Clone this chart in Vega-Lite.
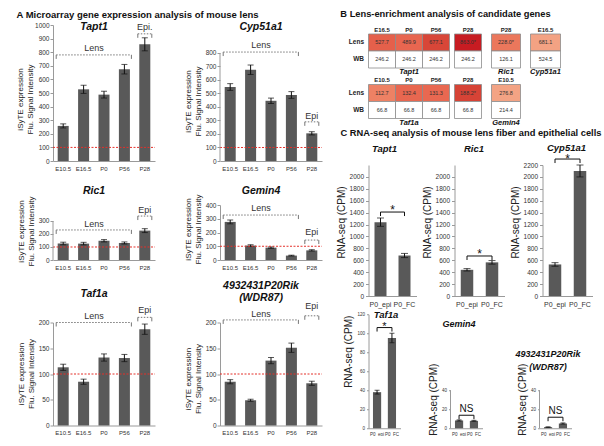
{
"$schema":"https://vega.github.io/schema/vega-lite/v6.json",
"background":"white",
"padding":{"left":16,"top":10,"right":0,"bottom":0},
"config":{"view":{"stroke":null},"font":"Liberation Sans","axis":{"grid":false,"domainColor":"#9a9a9a","tickColor":"#9a9a9a","labelColor":"#333","titleColor":"#222","titleFontWeight":"normal","labelOverlap":false}},
"datasets":{
"micro":[
{"gene":"Tapt1","x":"E10.5","y":258,"err":15},{"gene":"Tapt1","x":"E16.5","y":527,"err":30},{"gene":"Tapt1","x":"P0","y":488,"err":25},{"gene":"Tapt1","x":"P56","y":675,"err":35},{"gene":"Tapt1","x":"P28","y":858,"err":48},
{"gene":"Cyp51a1","x":"E10.5","y":548,"err":25},{"gene":"Cyp51a1","x":"E16.5","y":676,"err":35},{"gene":"Cyp51a1","x":"P0","y":446,"err":20},{"gene":"Cyp51a1","x":"P56","y":489,"err":25},{"gene":"Cyp51a1","x":"P28","y":205,"err":12},
{"gene":"Ric1","x":"E10.5","y":127,"err":10},{"gene":"Ric1","x":"E16.5","y":126,"err":10},{"gene":"Ric1","x":"P0","y":148,"err":9},{"gene":"Ric1","x":"P56","y":131,"err":8},{"gene":"Ric1","x":"P28","y":226,"err":15},
{"gene":"Gemin4","x":"E10.5","y":277,"err":14},{"gene":"Gemin4","x":"E16.5","y":105,"err":6},{"gene":"Gemin4","x":"P0","y":90,"err":5},{"gene":"Gemin4","x":"P56","y":32,"err":3},{"gene":"Gemin4","x":"P28","y":70,"err":5},
{"gene":"Taf1a","x":"E10.5","y":113,"err":6},{"gene":"Taf1a","x":"E16.5","y":85,"err":5},{"gene":"Taf1a","x":"P0","y":132,"err":7},{"gene":"Taf1a","x":"P56","y":131,"err":7},{"gene":"Taf1a","x":"P28","y":187,"err":10},
{"gene":"WDR87","x":"E10.5","y":85,"err":4},{"gene":"WDR87","x":"E16.5","y":49,"err":2},{"gene":"WDR87","x":"P0","y":126,"err":6},{"gene":"WDR87","x":"P56","y":151,"err":9},{"gene":"WDR87","x":"P28","y":82,"err":4}
],
"ref":[{"x":"E10.5","x2":"P28","y":100}],
"brk":[
{"gene":"Tapt1","x":"E10.5","x2":"P56","y":780},{"gene":"Tapt1","x":"P28","x2":"P28","y":935},
{"gene":"Cyp51a1","x":"E10.5","x2":"P56","y":807},{"gene":"Cyp51a1","x":"P28","x2":"P28","y":290},
{"gene":"Ric1","x":"E10.5","x2":"P56","y":231},{"gene":"Ric1","x":"P28","x2":"P28","y":338},
{"gene":"Gemin4","x":"E10.5","x2":"P56","y":327},{"gene":"Gemin4","x":"P28","x2":"P28","y":145},
{"gene":"Taf1a","x":"E10.5","x2":"P56","y":200},{"gene":"Taf1a","x":"P28","x2":"P28","y":210},
{"gene":"WDR87","x":"E10.5","x2":"P56","y":205},{"gene":"WDR87","x":"P28","x2":"P28","y":213}
],
"bt":[
{"gene":"Tapt1","side":"L","x":"E10.5","y":780},{"gene":"Tapt1","side":"R","x":"P56","y":780},{"gene":"Tapt1","side":"L","x":"P28","y":935},{"gene":"Tapt1","side":"R","x":"P28","y":935},
{"gene":"Cyp51a1","side":"L","x":"E10.5","y":807},{"gene":"Cyp51a1","side":"R","x":"P56","y":807},{"gene":"Cyp51a1","side":"L","x":"P28","y":290},{"gene":"Cyp51a1","side":"R","x":"P28","y":290},
{"gene":"Ric1","side":"L","x":"E10.5","y":231},{"gene":"Ric1","side":"R","x":"P56","y":231},{"gene":"Ric1","side":"L","x":"P28","y":338},{"gene":"Ric1","side":"R","x":"P28","y":338},
{"gene":"Gemin4","side":"L","x":"E10.5","y":327},{"gene":"Gemin4","side":"R","x":"P56","y":327},{"gene":"Gemin4","side":"L","x":"P28","y":145},{"gene":"Gemin4","side":"R","x":"P28","y":145},
{"gene":"Taf1a","side":"L","x":"E10.5","y":200},{"gene":"Taf1a","side":"R","x":"P56","y":200},{"gene":"Taf1a","side":"L","x":"P28","y":210},{"gene":"Taf1a","side":"R","x":"P28","y":210},
{"gene":"WDR87","side":"L","x":"E10.5","y":205},{"gene":"WDR87","side":"R","x":"P56","y":205},{"gene":"WDR87","side":"L","x":"P28","y":213},{"gene":"WDR87","side":"R","x":"P28","y":213}
],
"lbl":[
{"gene":"Tapt1","kind":"lens","x":"P0","y":830,"text":"Lens"},{"gene":"Tapt1","kind":"epi","x":"P28","y":985,"text":"Epi."},{"gene":"Tapt1","kind":"title","x":"P0","y":985,"text":"Tapt1"},
{"gene":"Cyp51a1","kind":"lens","x":"P0","y":860,"text":"Lens"},{"gene":"Cyp51a1","kind":"epi","x":"P28","y":330,"text":"Epi"},{"gene":"Cyp51a1","kind":"title","x":"P0","y":993,"text":"Cyp51a1"},
{"gene":"Ric1","kind":"lens","x":"P0","y":277,"text":"Lens"},{"gene":"Ric1","kind":"epi","x":"P28","y":385,"text":"Epi"},{"gene":"Ric1","kind":"title","x":"P0","y":531,"text":"Ric1"},
{"gene":"Gemin4","kind":"lens","x":"P0","y":378,"text":"Lens"},{"gene":"Gemin4","kind":"epi","x":"P28","y":204,"text":"Epi"},{"gene":"Gemin4","kind":"title","x":"P0","y":502,"text":"Gemin4"},
{"gene":"Taf1a","kind":"lens","x":"P0","y":212,"text":"Lens"},{"gene":"Taf1a","kind":"epi","x":"P28","y":225,"text":"Epi"},{"gene":"Taf1a","kind":"title","x":"P0","y":256,"text":"Taf1a"},
{"gene":"WDR87","kind":"lens","x":"P0","y":217,"text":"Lens"},{"gene":"WDR87","kind":"epi","x":"P28","y":233,"text":"Epi"},{"gene":"WDR87","kind":"title","x":"P0","y":270,"text":"4932431P20Rik"},{"gene":"WDR87","kind":"title","x":"P0","y":247,"text":"(WDR87)"}
],
"axl":[{"gene":"Cyp51a1","x":"E10.5","y":0,"y2":800},{"gene":"Ric1","x":"E10.5","y":0,"y2":300}],
"caxl":[{"gene":"Gemin4","x":"P0_epi","y":0,"y2":40},{"gene":"WDR87","x":"P0_epi","y":0,"y2":40}],
"heat":[
{"blk":"t1","col":"E16.5","row":"Lens","label":"527.7","fold":2.14},{"blk":"t1","col":"E16.5","row":"WB","label":"246.2","fold":1},
{"blk":"t1","col":"P0","row":"Lens","label":"489.9","fold":1.99},{"blk":"t1","col":"P0","row":"WB","label":"246.2","fold":1},
{"blk":"t1","col":"P56","row":"Lens","label":"677.1","fold":2.75},{"blk":"t1","col":"P56","row":"WB","label":"246.2","fold":1},
{"blk":"t2","col":"P28","row":"Lens","label":"863.0*","fold":3.51},{"blk":"t2","col":"P28","row":"WB","label":"246.2","fold":1},
{"blk":"r1","col":"P28","row":"Lens","label":"228.0*","fold":1.81},{"blk":"r1","col":"P28","row":"WB","label":"126.1","fold":1},
{"blk":"c1","col":"E16.5","row":"Lens","label":"681.1","fold":1.3},{"blk":"c1","col":"E16.5","row":"WB","label":"524.5","fold":1},
{"blk":"f1","col":"E10.5","row":"Lens","label":"112.7","fold":1.69},{"blk":"f1","col":"E10.5","row":"WB","label":"66.8","fold":1},
{"blk":"f1","col":"P0","row":"Lens","label":"132.4","fold":1.98},{"blk":"f1","col":"P0","row":"WB","label":"66.8","fold":1},
{"blk":"f1","col":"P56","row":"Lens","label":"131.3","fold":1.97},{"blk":"f1","col":"P56","row":"WB","label":"66.8","fold":1},
{"blk":"f2","col":"P28","row":"Lens","label":"188.2*","fold":2.82},{"blk":"f2","col":"P28","row":"WB","label":"66.8","fold":1},
{"blk":"g1","col":"E10.5","row":"Lens","label":"276.8","fold":1.29},{"blk":"g1","col":"E10.5","row":"WB","label":"214.4","fold":1}
],
"rna":[
{"gene":"Tapt1","x":"P0_epi","y":1240,"err":70},{"gene":"Tapt1","x":"P0_FC","y":680,"err":35},
{"gene":"Ric1","x":"P0_epi","y":440,"err":20},{"gene":"Ric1","x":"P0_FC","y":565,"err":30},
{"gene":"Cyp51a1","x":"P0_epi","y":530,"err":30},{"gene":"Cyp51a1","x":"P0_FC","y":2100,"err":100},
{"gene":"Taf1a","x":"P0_epi","y":38,"err":2},{"gene":"Taf1a","x":"P0_FC","y":95,"err":5},
{"gene":"Gemin4","x":"P0_epi","y":8.2,"err":0.6},{"gene":"Gemin4","x":"P0_FC","y":7.8,"err":0.5},
{"gene":"WDR87","x":"P0_epi","y":1.2,"err":0.3},{"gene":"WDR87","x":"P0_FC","y":5,"err":0.6}
],
"sig":[
{"gene":"Tapt1","x":"P0_epi","x2":"P0_FC","y":1410,"text":"*"},
{"gene":"Ric1","x":"P0_epi","x2":"P0_FC","y":672,"text":"*"},
{"gene":"Cyp51a1","x":"P0_epi","x2":"P0_FC","y":2300,"text":"*"},
{"gene":"Taf1a","x":"P0_epi","x2":"P0_FC","y":106,"text":"*"},
{"gene":"Gemin4","x":"P0_epi","x2":"P0_FC","y":13.7,"text":"NS"},
{"gene":"WDR87","x":"P0_epi","x2":"P0_FC","y":11.6,"text":"NS"}
],
"st":[
{"gene":"Tapt1","x":"P0_epi","y":1410},{"gene":"Tapt1","x":"P0_FC","y":1410},
{"gene":"Ric1","x":"P0_epi","y":672},{"gene":"Ric1","x":"P0_FC","y":672},
{"gene":"Cyp51a1","x":"P0_epi","y":2300},{"gene":"Cyp51a1","x":"P0_FC","y":2300},
{"gene":"Taf1a","x":"P0_epi","y":106},{"gene":"Taf1a","x":"P0_FC","y":106},
{"gene":"Gemin4","x":"P0_epi","y":13.7},{"gene":"Gemin4","x":"P0_FC","y":13.7},
{"gene":"WDR87","x":"P0_epi","y":11.6},{"gene":"WDR87","x":"P0_FC","y":11.6}
],
"ct":[
{"gene":"Tapt1","x":"P0_epi","y":2470,"text":"Tapt1"},
{"gene":"Ric1","x":"P0_epi","y":2470,"text":"Ric1"},
{"gene":"Cyp51a1","x":"P0_epi","y":2470,"text":"Cyp51a1"},
{"gene":"Taf1a","x":"P0_epi","y":119,"text":"Taf1a"},
{"gene":"Gemin4","x":"P0_epi","y":110,"text":"Gemin4"},
{"gene":"WDR87","x":"P0_epi","y":78,"text":"4932431P20Rik"},
{"gene":"WDR87","x":"P0_epi","y":65,"text":"(WDR87)"}
]
},
"spacing":12.5,
"hconcat":[
{
"title":{"text":"A  Microarray gene expression analysis of mouse lens","anchor":"start","fontSize":9.5,"fontWeight":"bold","color":"#111","offset":2.2,"dx":0},
"spacing":10.5,
"vconcat":[
{"spacing":14,"vconcat":[
{"spacing":28,"hconcat":[
{"width":102,"height":136,
"encoding":{"x":{"field":"x","type":"nominal","scale":{"domain":["E10.5","E16.5","P0","P56","P28"],"paddingInner":0.46,"paddingOuter":0.23},"axis":{"title":null,"labelAngle":0,"ticks":false,"labelFontSize":6,"labelPadding":4}},"y":{"field":"y","type":"quantitative","title":["iSyTE expression","Flu. Signal Intensity"],"scale":{"domain":[0,1000],"nice":false},"axis":{"values":[0,100,200,300,400,500,600,700,800,900,1000],"format":"d","labelFontSize":6.5,"tickSize":3,"labelPadding":1,"minExtent":18,"titleFontSize":8,"titleLineHeight":10,"titlePadding":0,"titleY":74,"labelOverlap":false}}},
"layer":[
{"data":{"name":"micro"},"transform":[{"filter":"datum.gene==='Tapt1'"}],"mark":{"type":"bar","color":"#595959"}},
{"data":{"name":"micro"},"transform":[{"filter":"datum.gene==='Tapt1'"}],"mark":{"type":"errorbar","color":"#111","ticks":{"size":6}},"encoding":{"yError":{"field":"err"}}},
{"data":{"name":"ref"},"mark":{"type":"rule","color":"#e4312b","strokeDash":[2,1.5],"xOffset":-10.2,"x2Offset":10.2},"encoding":{"x2":{"field":"x2"}}},
{"data":{"name":"brk"},"transform":[{"filter":"datum.gene==='Tapt1'"}],"mark":{"type":"rule","color":"#777","strokeDash":[1.5,1.5],"xOffset":-7,"x2Offset":7},"encoding":{"x2":{"field":"x2"}}},
{"data":{"name":"bt"},"transform":[{"filter":"datum.gene==='Tapt1' && datum.side==='L'"}],"mark":{"type":"rule","color":"#777","xOffset":-7,"y2Offset":4},"encoding":{"y2":{"field":"y"}}},
{"data":{"name":"bt"},"transform":[{"filter":"datum.gene==='Tapt1' && datum.side==='R'"}],"mark":{"type":"rule","color":"#777","xOffset":7,"y2Offset":4},"encoding":{"y2":{"field":"y"}}},
{"data":{"name":"lbl"},"transform":[{"filter":"datum.gene==='Tapt1' && datum.kind==='lens'"}],"mark":{"type":"text","fontSize":9,"color":"#333","dx":-10},"encoding":{"text":{"field":"text"}}},
{"data":{"name":"lbl"},"transform":[{"filter":"datum.gene==='Tapt1' && datum.kind==='epi'"}],"mark":{"type":"text","fontSize":9,"color":"#333"},"encoding":{"text":{"field":"text"}}},
{"data":{"name":"lbl"},"transform":[{"filter":"datum.gene==='Tapt1' && datum.kind==='title'"}],"mark":{"type":"text","fontSize":10.5,"fontWeight":"bold","fontStyle":"italic","color":"#111","dx":-10},"encoding":{"text":{"field":"text"}}}
]},
{"width":102,"height":136,
"encoding":{"x":{"field":"x","type":"nominal","scale":{"domain":["E10.5","E16.5","P0","P56","P28"],"paddingInner":0.46,"paddingOuter":0.23},"axis":{"title":null,"labelAngle":0,"ticks":false,"labelFontSize":6,"labelPadding":4}},"y":{"field":"y","type":"quantitative","title":["iSyTE expression","Flu. Signal Intensity"],"scale":{"domain":[0,1007.4],"nice":false},"axis":{"values":[0,100,200,300,400,500,600,700,800],"format":"d","domain":false,"labelFontSize":6.5,"tickSize":3,"labelPadding":1,"minExtent":18,"titleFontSize":8,"titleLineHeight":10,"titlePadding":0,"titleY":76,"labelOverlap":false}}},
"layer":[
{"data":{"name":"micro"},"transform":[{"filter":"datum.gene==='Cyp51a1'"}],"mark":{"type":"bar","color":"#595959"}},
{"data":{"name":"micro"},"transform":[{"filter":"datum.gene==='Cyp51a1'"}],"mark":{"type":"errorbar","color":"#111","ticks":{"size":6}},"encoding":{"yError":{"field":"err"}}},
{"data":{"name":"ref"},"mark":{"type":"rule","color":"#e4312b","strokeDash":[2,1.5],"xOffset":-10.2,"x2Offset":10.2},"encoding":{"x2":{"field":"x2"}}},
{"data":{"name":"axl"},"transform":[{"filter":"datum.gene==='Cyp51a1'"}],"mark":{"type":"rule","color":"#9a9a9a","xOffset":-10.2},"encoding":{"y2":{"field":"y2"}}},
{"data":{"name":"brk"},"transform":[{"filter":"datum.gene==='Cyp51a1'"}],"mark":{"type":"rule","color":"#777","strokeDash":[1.5,1.5],"xOffset":-7,"x2Offset":7},"encoding":{"x2":{"field":"x2"}}},
{"data":{"name":"bt"},"transform":[{"filter":"datum.gene==='Cyp51a1' && datum.side==='L'"}],"mark":{"type":"rule","color":"#777","xOffset":-7,"y2Offset":4},"encoding":{"y2":{"field":"y"}}},
{"data":{"name":"bt"},"transform":[{"filter":"datum.gene==='Cyp51a1' && datum.side==='R'"}],"mark":{"type":"rule","color":"#777","xOffset":7,"y2Offset":4},"encoding":{"y2":{"field":"y"}}},
{"data":{"name":"lbl"},"transform":[{"filter":"datum.gene==='Cyp51a1' && datum.kind==='lens'"}],"mark":{"type":"text","fontSize":9,"color":"#333","dx":-10},"encoding":{"text":{"field":"text"}}},
{"data":{"name":"lbl"},"transform":[{"filter":"datum.gene==='Cyp51a1' && datum.kind==='epi'"}],"mark":{"type":"text","fontSize":9,"color":"#333"},"encoding":{"text":{"field":"text"}}},
{"data":{"name":"lbl"},"transform":[{"filter":"datum.gene==='Cyp51a1' && datum.kind==='title'"}],"mark":{"type":"text","fontSize":10.5,"fontWeight":"bold","fontStyle":"italic","color":"#111","dx":-10},"encoding":{"text":{"field":"text"}}}
]}
]},
{"spacing":28,"hconcat":[
{"width":102,"height":55,
"encoding":{"x":{"field":"x","type":"nominal","scale":{"domain":["E10.5","E16.5","P0","P56","P28"],"paddingInner":0.46,"paddingOuter":0.23},"axis":{"title":null,"labelAngle":0,"ticks":false,"labelFontSize":6,"labelPadding":4}},"y":{"field":"y","type":"quantitative","title":["iSyTE expression","Flu. Signal Intensity"],"scale":{"domain":[0,423],"nice":false},"axis":{"values":[0,100,200,300],"format":"d","domain":false,"labelFontSize":6.5,"tickSize":3,"labelPadding":1,"minExtent":18,"titleFontSize":8,"titleLineHeight":10,"titlePadding":0,"titleY":26,"labelOverlap":false}}},
"layer":[
{"data":{"name":"micro"},"transform":[{"filter":"datum.gene==='Ric1'"}],"mark":{"type":"bar","color":"#595959"}},
{"data":{"name":"micro"},"transform":[{"filter":"datum.gene==='Ric1'"}],"mark":{"type":"errorbar","color":"#111","ticks":{"size":6}},"encoding":{"yError":{"field":"err"}}},
{"data":{"name":"ref"},"mark":{"type":"rule","color":"#e4312b","strokeDash":[2,1.5],"xOffset":-10.2,"x2Offset":10.2},"encoding":{"x2":{"field":"x2"}}},
{"data":{"name":"axl"},"transform":[{"filter":"datum.gene==='Ric1'"}],"mark":{"type":"rule","color":"#9a9a9a","xOffset":-10.2},"encoding":{"y2":{"field":"y2"}}},
{"data":{"name":"brk"},"transform":[{"filter":"datum.gene==='Ric1'"}],"mark":{"type":"rule","color":"#777","strokeDash":[1.5,1.5],"xOffset":-7,"x2Offset":7},"encoding":{"x2":{"field":"x2"}}},
{"data":{"name":"bt"},"transform":[{"filter":"datum.gene==='Ric1' && datum.side==='L'"}],"mark":{"type":"rule","color":"#777","xOffset":-7,"y2Offset":4},"encoding":{"y2":{"field":"y"}}},
{"data":{"name":"bt"},"transform":[{"filter":"datum.gene==='Ric1' && datum.side==='R'"}],"mark":{"type":"rule","color":"#777","xOffset":7,"y2Offset":4},"encoding":{"y2":{"field":"y"}}},
{"data":{"name":"lbl"},"transform":[{"filter":"datum.gene==='Ric1' && datum.kind==='lens'"}],"mark":{"type":"text","fontSize":9,"color":"#333","dx":-10},"encoding":{"text":{"field":"text"}}},
{"data":{"name":"lbl"},"transform":[{"filter":"datum.gene==='Ric1' && datum.kind==='epi'"}],"mark":{"type":"text","fontSize":9,"color":"#333"},"encoding":{"text":{"field":"text"}}},
{"data":{"name":"lbl"},"transform":[{"filter":"datum.gene==='Ric1' && datum.kind==='title'"}],"mark":{"type":"text","fontSize":10.5,"fontWeight":"bold","fontStyle":"italic","color":"#111","dx":-10},"encoding":{"text":{"field":"text"}}}
]},
{"width":102,"height":55,
"encoding":{"x":{"field":"x","type":"nominal","scale":{"domain":["E10.5","E16.5","P0","P56","P28"],"paddingInner":0.46,"paddingOuter":0.23},"axis":{"title":null,"labelAngle":0,"ticks":false,"labelFontSize":6,"labelPadding":4}},"y":{"field":"y","type":"quantitative","title":["iSyTE expression","Flu. Signal Intensity"],"scale":{"domain":[0,400],"nice":false},"axis":{"values":[0,100,200,300,400],"format":"d","labelFontSize":6.5,"tickSize":3,"labelPadding":1,"minExtent":18,"titleFontSize":8,"titleLineHeight":10,"titlePadding":0,"titleY":24,"labelOverlap":false}}},
"layer":[
{"data":{"name":"micro"},"transform":[{"filter":"datum.gene==='Gemin4'"}],"mark":{"type":"bar","color":"#595959"}},
{"data":{"name":"micro"},"transform":[{"filter":"datum.gene==='Gemin4'"}],"mark":{"type":"errorbar","color":"#111","ticks":{"size":6}},"encoding":{"yError":{"field":"err"}}},
{"data":{"name":"ref"},"mark":{"type":"rule","color":"#e4312b","strokeDash":[2,1.5],"xOffset":-10.2,"x2Offset":10.2},"encoding":{"x2":{"field":"x2"}}},
{"data":{"name":"brk"},"transform":[{"filter":"datum.gene==='Gemin4'"}],"mark":{"type":"rule","color":"#777","strokeDash":[1.5,1.5],"xOffset":-7,"x2Offset":7},"encoding":{"x2":{"field":"x2"}}},
{"data":{"name":"bt"},"transform":[{"filter":"datum.gene==='Gemin4' && datum.side==='L'"}],"mark":{"type":"rule","color":"#777","xOffset":-7,"y2Offset":4},"encoding":{"y2":{"field":"y"}}},
{"data":{"name":"bt"},"transform":[{"filter":"datum.gene==='Gemin4' && datum.side==='R'"}],"mark":{"type":"rule","color":"#777","xOffset":7,"y2Offset":4},"encoding":{"y2":{"field":"y"}}},
{"data":{"name":"lbl"},"transform":[{"filter":"datum.gene==='Gemin4' && datum.kind==='lens'"}],"mark":{"type":"text","fontSize":9,"color":"#333","dx":-10},"encoding":{"text":{"field":"text"}}},
{"data":{"name":"lbl"},"transform":[{"filter":"datum.gene==='Gemin4' && datum.kind==='epi'"}],"mark":{"type":"text","fontSize":9,"color":"#333"},"encoding":{"text":{"field":"text"}}},
{"data":{"name":"lbl"},"transform":[{"filter":"datum.gene==='Gemin4' && datum.kind==='title'"}],"mark":{"type":"text","fontSize":10.5,"fontWeight":"bold","fontStyle":"italic","color":"#111","dx":-10},"encoding":{"text":{"field":"text"}}}
]}
]}
]},
{"spacing":28,"hconcat":[
{"width":102,"height":103,
"encoding":{"x":{"field":"x","type":"nominal","scale":{"domain":["E10.5","E16.5","P0","P56","P28"],"paddingInner":0.46,"paddingOuter":0.23},"axis":{"title":null,"labelAngle":0,"ticks":false,"labelFontSize":6,"labelPadding":4}},"y":{"field":"y","type":"quantitative","title":["iSyTE expression","Flu. Signal Intensity"],"scale":{"domain":[0,200],"nice":false},"axis":{"values":[0,50,100,150,200],"format":"d","labelFontSize":6.5,"tickSize":3,"labelPadding":1,"minExtent":18,"titleFontSize":8,"titleLineHeight":10,"titlePadding":0,"titleY":51,"labelOverlap":false}}},
"layer":[
{"data":{"name":"micro"},"transform":[{"filter":"datum.gene==='Taf1a'"}],"mark":{"type":"bar","color":"#595959"}},
{"data":{"name":"micro"},"transform":[{"filter":"datum.gene==='Taf1a'"}],"mark":{"type":"errorbar","color":"#111","ticks":{"size":6}},"encoding":{"yError":{"field":"err"}}},
{"data":{"name":"ref"},"mark":{"type":"rule","color":"#e4312b","strokeDash":[2,1.5],"xOffset":-10.2,"x2Offset":10.2},"encoding":{"x2":{"field":"x2"}}},
{"data":{"name":"brk"},"transform":[{"filter":"datum.gene==='Taf1a'"}],"mark":{"type":"rule","color":"#777","strokeDash":[1.5,1.5],"xOffset":-7,"x2Offset":7},"encoding":{"x2":{"field":"x2"}}},
{"data":{"name":"bt"},"transform":[{"filter":"datum.gene==='Taf1a' && datum.side==='L'"}],"mark":{"type":"rule","color":"#777","xOffset":-7,"y2Offset":4},"encoding":{"y2":{"field":"y"}}},
{"data":{"name":"bt"},"transform":[{"filter":"datum.gene==='Taf1a' && datum.side==='R'"}],"mark":{"type":"rule","color":"#777","xOffset":7,"y2Offset":4},"encoding":{"y2":{"field":"y"}}},
{"data":{"name":"lbl"},"transform":[{"filter":"datum.gene==='Taf1a' && datum.kind==='lens'"}],"mark":{"type":"text","fontSize":9,"color":"#333","dx":-10},"encoding":{"text":{"field":"text"}}},
{"data":{"name":"lbl"},"transform":[{"filter":"datum.gene==='Taf1a' && datum.kind==='epi'"}],"mark":{"type":"text","fontSize":9,"color":"#333"},"encoding":{"text":{"field":"text"}}},
{"data":{"name":"lbl"},"transform":[{"filter":"datum.gene==='Taf1a' && datum.kind==='title'"}],"mark":{"type":"text","fontSize":10.5,"fontWeight":"bold","fontStyle":"italic","color":"#111","dx":-10},"encoding":{"text":{"field":"text"}}}
]},
{"width":102,"height":103,
"encoding":{"x":{"field":"x","type":"nominal","scale":{"domain":["E10.5","E16.5","P0","P56","P28"],"paddingInner":0.46,"paddingOuter":0.23},"axis":{"title":null,"labelAngle":0,"ticks":false,"labelFontSize":6,"labelPadding":4}},"y":{"field":"y","type":"quantitative","title":["iSyTE expression","Flu. Signal Intensity"],"scale":{"domain":[0,200],"nice":false},"axis":{"values":[0,50,100,150,200],"format":"d","labelFontSize":6.5,"tickSize":3,"labelPadding":1,"minExtent":18,"titleFontSize":8,"titleLineHeight":10,"titlePadding":0,"titleY":56,"labelOverlap":false}}},
"layer":[
{"data":{"name":"micro"},"transform":[{"filter":"datum.gene==='WDR87'"}],"mark":{"type":"bar","color":"#595959"}},
{"data":{"name":"micro"},"transform":[{"filter":"datum.gene==='WDR87'"}],"mark":{"type":"errorbar","color":"#111","ticks":{"size":6}},"encoding":{"yError":{"field":"err"}}},
{"data":{"name":"ref"},"mark":{"type":"rule","color":"#e4312b","strokeDash":[2,1.5],"xOffset":-10.2,"x2Offset":10.2},"encoding":{"x2":{"field":"x2"}}},
{"data":{"name":"brk"},"transform":[{"filter":"datum.gene==='WDR87'"}],"mark":{"type":"rule","color":"#777","strokeDash":[1.5,1.5],"xOffset":-7,"x2Offset":7},"encoding":{"x2":{"field":"x2"}}},
{"data":{"name":"bt"},"transform":[{"filter":"datum.gene==='WDR87' && datum.side==='L'"}],"mark":{"type":"rule","color":"#777","xOffset":-7,"y2Offset":4},"encoding":{"y2":{"field":"y"}}},
{"data":{"name":"bt"},"transform":[{"filter":"datum.gene==='WDR87' && datum.side==='R'"}],"mark":{"type":"rule","color":"#777","xOffset":7,"y2Offset":4},"encoding":{"y2":{"field":"y"}}},
{"data":{"name":"lbl"},"transform":[{"filter":"datum.gene==='WDR87' && datum.kind==='lens'"}],"mark":{"type":"text","fontSize":9,"color":"#333","dx":-10},"encoding":{"text":{"field":"text"}}},
{"data":{"name":"lbl"},"transform":[{"filter":"datum.gene==='WDR87' && datum.kind==='epi'"}],"mark":{"type":"text","fontSize":9,"color":"#333"},"encoding":{"text":{"field":"text"}}},
{"data":{"name":"lbl"},"transform":[{"filter":"datum.gene==='WDR87' && datum.kind==='title'"}],"mark":{"type":"text","fontSize":10.5,"fontWeight":"bold","fontStyle":"italic","color":"#111","dx":-10},"encoding":{"text":{"field":"text"}}}
]}
]}
]
},
{
"spacing":2,
"vconcat":[
{
"title":{"text":"B  Lens-enrichment analysis of candidate genes","anchor":"start","fontSize":9.3,"fontWeight":"bold","color":"#111","offset":5.5,"dx":-8},
"spacing":0,
"vconcat":[
{"spacing":8,"hconcat":[
{"spacing":3,"hconcat":[
{"width":81,"height":43,"data":{"name":"heat"},"transform":[{"filter":"datum.blk==='t1'"}],
"encoding":{"x":{"field":"col","type":"nominal","scale":{"paddingInner":0,"paddingOuter":0},"axis":{"orient":"top","offset":-9,"title":null,"labelAngle":0,"ticks":false,"domain":false,"labelFontSize":6,"labelFontWeight":"bold","labelPadding":2,"labelColor":"#222"}},"y":{"field":"row","type":"nominal","sort":["Lens","WB"],"scale":{"paddingInner":0,"paddingOuter":0.2647,"align":1},"axis":{"title":null,"ticks":false,"domain":false,"labelFontSize":6.5,"labelFontWeight":"bold","labelPadding":5,"labelColor":"#222"}}},
"layer":[{"mark":{"type":"rect","stroke":"#8c8c8c","strokeWidth":0.8},"encoding":{"color":{"condition":{"test":"datum.row==='WB'","value":"#ffffff"},"field":"fold","type":"quantitative","scale":{"domain":[1.3,2,3.5],"range":["#f3a283","#e8654f","#c71d22"]},"legend":null}}},{"mark":{"type":"text","fontSize":5.5,"color":"#333"},"encoding":{"text":{"field":"label"}}}],
"title":{"text":"Tapt1","orient":"bottom","anchor":"middle","fontSize":7.5,"fontWeight":"bold","fontStyle":"italic","color":"#111","offset":0}},
{"width":27,"height":43,"data":{"name":"heat"},"transform":[{"filter":"datum.blk==='t2'"}],
"encoding":{"x":{"field":"col","type":"nominal","scale":{"paddingInner":0,"paddingOuter":0},"axis":{"orient":"top","offset":-9,"title":null,"labelAngle":0,"ticks":false,"domain":false,"labelFontSize":6,"labelFontWeight":"bold","labelPadding":2,"labelColor":"#222"}},"y":{"field":"row","type":"nominal","sort":["Lens","WB"],"scale":{"paddingInner":0,"paddingOuter":0.2647,"align":1},"axis":null}},
"layer":[{"mark":{"type":"rect","stroke":"#8c8c8c","strokeWidth":0.8},"encoding":{"color":{"condition":{"test":"datum.row==='WB'","value":"#ffffff"},"field":"fold","type":"quantitative","scale":{"domain":[1.3,2,3.5],"range":["#f3a283","#e8654f","#c71d22"]},"legend":null}}},{"mark":{"type":"text","fontSize":5.5,"color":"#333"},"encoding":{"text":{"field":"label"}}}]}
]},
{"width":29,"height":43,"data":{"name":"heat"},"transform":[{"filter":"datum.blk==='r1'"}],
"encoding":{"x":{"field":"col","type":"nominal","scale":{"paddingInner":0,"paddingOuter":0},"axis":{"orient":"top","offset":-9,"title":null,"labelAngle":0,"ticks":false,"domain":false,"labelFontSize":6,"labelFontWeight":"bold","labelPadding":2,"labelColor":"#222"}},"y":{"field":"row","type":"nominal","sort":["Lens","WB"],"scale":{"paddingInner":0,"paddingOuter":0.2647,"align":1},"axis":null}},
"layer":[{"mark":{"type":"rect","stroke":"#8c8c8c","strokeWidth":0.8},"encoding":{"color":{"condition":{"test":"datum.row==='WB'","value":"#ffffff"},"field":"fold","type":"quantitative","scale":{"domain":[1.3,2,3.5],"range":["#f3a283","#e8654f","#c71d22"]},"legend":null}}},{"mark":{"type":"text","fontSize":5.5,"color":"#333"},"encoding":{"text":{"field":"label"}}}],
"title":{"text":"Ric1","orient":"bottom","anchor":"middle","fontSize":7.5,"fontWeight":"bold","fontStyle":"italic","color":"#111","offset":0}},
{"width":30,"height":43,"data":{"name":"heat"},"transform":[{"filter":"datum.blk==='c1'"}],
"encoding":{"x":{"field":"col","type":"nominal","scale":{"paddingInner":0,"paddingOuter":0},"axis":{"orient":"top","offset":-9,"title":null,"labelAngle":0,"ticks":false,"domain":false,"labelFontSize":6,"labelFontWeight":"bold","labelPadding":2,"labelColor":"#222"}},"y":{"field":"row","type":"nominal","sort":["Lens","WB"],"scale":{"paddingInner":0,"paddingOuter":0.2647,"align":1},"axis":null}},
"layer":[{"mark":{"type":"rect","stroke":"#8c8c8c","strokeWidth":0.8},"encoding":{"color":{"condition":{"test":"datum.row==='WB'","value":"#ffffff"},"field":"fold","type":"quantitative","scale":{"domain":[1.3,2,3.5],"range":["#f3a283","#e8654f","#c71d22"]},"legend":null}}},{"mark":{"type":"text","fontSize":5.5,"color":"#333"},"encoding":{"text":{"field":"label"}}}],
"title":{"text":"Cyp51a1","orient":"bottom","anchor":"middle","fontSize":7.5,"fontWeight":"bold","fontStyle":"italic","color":"#111","offset":0}}
]},
{"spacing":8,"hconcat":[
{"spacing":3,"hconcat":[
{"width":81,"height":41.5,"data":{"name":"heat"},"transform":[{"filter":"datum.blk==='f1'"}],
"encoding":{"x":{"field":"col","type":"nominal","scale":{"paddingInner":0,"paddingOuter":0},"axis":{"orient":"top","offset":-7.5,"title":null,"labelAngle":0,"ticks":false,"domain":false,"labelFontSize":6,"labelFontWeight":"bold","labelPadding":2,"labelColor":"#222"}},"y":{"field":"row","type":"nominal","sort":["Lens","WB"],"scale":{"paddingInner":0,"paddingOuter":0.2206,"align":1},"axis":{"title":null,"ticks":false,"domain":false,"labelFontSize":6.5,"labelFontWeight":"bold","labelPadding":5,"labelColor":"#222"}}},
"layer":[{"mark":{"type":"rect","stroke":"#8c8c8c","strokeWidth":0.8},"encoding":{"color":{"condition":{"test":"datum.row==='WB'","value":"#ffffff"},"field":"fold","type":"quantitative","scale":{"domain":[1.3,2,3.5],"range":["#f3a283","#e8654f","#c71d22"]},"legend":null}}},{"mark":{"type":"text","fontSize":5.5,"color":"#333"},"encoding":{"text":{"field":"label"}}}],
"title":{"text":"Taf1a","orient":"bottom","anchor":"middle","fontSize":7.5,"fontWeight":"bold","fontStyle":"italic","color":"#111","offset":0}},
{"width":27,"height":41.5,"data":{"name":"heat"},"transform":[{"filter":"datum.blk==='f2'"}],
"encoding":{"x":{"field":"col","type":"nominal","scale":{"paddingInner":0,"paddingOuter":0},"axis":{"orient":"top","offset":-7.5,"title":null,"labelAngle":0,"ticks":false,"domain":false,"labelFontSize":6,"labelFontWeight":"bold","labelPadding":2,"labelColor":"#222"}},"y":{"field":"row","type":"nominal","sort":["Lens","WB"],"scale":{"paddingInner":0,"paddingOuter":0.2206,"align":1},"axis":null}},
"layer":[{"mark":{"type":"rect","stroke":"#8c8c8c","strokeWidth":0.8},"encoding":{"color":{"condition":{"test":"datum.row==='WB'","value":"#ffffff"},"field":"fold","type":"quantitative","scale":{"domain":[1.3,2,3.5],"range":["#f3a283","#e8654f","#c71d22"]},"legend":null}}},{"mark":{"type":"text","fontSize":5.5,"color":"#333"},"encoding":{"text":{"field":"label"}}}]}
]},
{"width":29,"height":41.5,"data":{"name":"heat"},"transform":[{"filter":"datum.blk==='g1'"}],
"encoding":{"x":{"field":"col","type":"nominal","scale":{"paddingInner":0,"paddingOuter":0},"axis":{"orient":"top","offset":-7.5,"title":null,"labelAngle":0,"ticks":false,"domain":false,"labelFontSize":6,"labelFontWeight":"bold","labelPadding":2,"labelColor":"#222"}},"y":{"field":"row","type":"nominal","sort":["Lens","WB"],"scale":{"paddingInner":0,"paddingOuter":0.2206,"align":1},"axis":null}},
"layer":[{"mark":{"type":"rect","stroke":"#8c8c8c","strokeWidth":0.8},"encoding":{"color":{"condition":{"test":"datum.row==='WB'","value":"#ffffff"},"field":"fold","type":"quantitative","scale":{"domain":[1.3,2,3.5],"range":["#f3a283","#e8654f","#c71d22"]},"legend":null}}},{"mark":{"type":"text","fontSize":5.5,"color":"#333"},"encoding":{"text":{"field":"label"}}}],
"title":{"text":"Gemin4","orient":"bottom","anchor":"middle","fontSize":7.5,"fontWeight":"bold","fontStyle":"italic","color":"#111","offset":0}}
]}
]
},
{
"title":{"text":"C  RNA-seq analysis of mouse lens fiber and epithelial cells","anchor":"start","fontSize":9.3,"fontWeight":"bold","color":"#111","offset":4.4,"dx":4.5},
"spacing":2.25,
"vconcat":[
{"spacing":5,"hconcat":[
{"width":48,"height":131,
"encoding":{"x":{"field":"x","type":"nominal","scale":{"domain":["P0_epi","P0_FC"],"paddingInner":0.5,"paddingOuter":0.25},"axis":{"title":null,"labelAngle":0,"ticks":false,"labelFontSize":7,"labelPadding":4}},"y":{"field":"y","type":"quantitative","title":"RNA-seq (CPM)","scale":{"domain":[0,2200],"nice":false},"axis":{"values":[0,200,400,600,800,1000,1200,1400,1600,1800,2000],"format":"d","labelFontSize":6.5,"tickSize":3,"labelPadding":2,"titleFontSize":10,"titlePadding":3,"titleY":57,"labelOverlap":false}}},
"layer":[
{"data":{"name":"rna"},"transform":[{"filter":"datum.gene==='Tapt1'"}],"mark":{"type":"bar","color":"#595959"}},
{"data":{"name":"rna"},"transform":[{"filter":"datum.gene==='Tapt1'"}],"mark":{"type":"errorbar","color":"#111","ticks":{"size":7}},"encoding":{"yError":{"field":"err"}}},
{"data":{"name":"sig"},"transform":[{"filter":"datum.gene==='Tapt1'"}],"mark":{"type":"rule","color":"#111"},"encoding":{"x2":{"field":"x2"}}},
{"data":{"name":"st"},"transform":[{"filter":"datum.gene==='Tapt1'"}],"mark":{"type":"rule","color":"#111","y2Offset":4},"encoding":{"y2":{"field":"y"}}},
{"data":{"name":"sig"},"transform":[{"filter":"datum.gene==='Tapt1'"}],"mark":{"type":"text","fontSize":12,"baseline":"alphabetic","dy":2,"dx":12,"color":"#111"},"encoding":{"text":{"field":"text"}}},
{"data":{"name":"ct"},"transform":[{"filter":"datum.gene==='Tapt1'"}],"mark":{"type":"text","fontSize":9.5,"fontWeight":"bold","fontStyle":"italic","color":"#111","dx":4},"encoding":{"text":{"field":"text"}}}
]},
{"width":50,"height":131,
"encoding":{"x":{"field":"x","type":"nominal","scale":{"domain":["P0_epi","P0_FC"],"paddingInner":0.5,"paddingOuter":0.25},"axis":{"title":null,"labelAngle":0,"ticks":false,"labelFontSize":7,"labelPadding":4}},"y":{"field":"y","type":"quantitative","title":"RNA-seq (CPM)","scale":{"domain":[0,2200],"nice":false},"axis":{"values":[0,200,400,600,800,1000,1200,1400,1600,1800,2000],"format":"d","labelFontSize":6.5,"tickSize":3,"labelPadding":2,"titleFontSize":10,"titlePadding":3,"titleY":57,"labelOverlap":false}}},
"layer":[
{"data":{"name":"rna"},"transform":[{"filter":"datum.gene==='Ric1'"}],"mark":{"type":"bar","color":"#595959"}},
{"data":{"name":"rna"},"transform":[{"filter":"datum.gene==='Ric1'"}],"mark":{"type":"errorbar","color":"#111","ticks":{"size":7}},"encoding":{"yError":{"field":"err"}}},
{"data":{"name":"sig"},"transform":[{"filter":"datum.gene==='Ric1'"}],"mark":{"type":"rule","color":"#111"},"encoding":{"x2":{"field":"x2"}}},
{"data":{"name":"st"},"transform":[{"filter":"datum.gene==='Ric1'"}],"mark":{"type":"rule","color":"#111","y2Offset":4},"encoding":{"y2":{"field":"y"}}},
{"data":{"name":"sig"},"transform":[{"filter":"datum.gene==='Ric1'"}],"mark":{"type":"text","fontSize":12,"baseline":"alphabetic","dy":2,"dx":12.5,"color":"#111"},"encoding":{"text":{"field":"text"}}},
{"data":{"name":"ct"},"transform":[{"filter":"datum.gene==='Ric1'"}],"mark":{"type":"text","fontSize":9.5,"fontWeight":"bold","fontStyle":"italic","color":"#111","dx":7},"encoding":{"text":{"field":"text"}}}
]},
{"width":50,"height":131,
"encoding":{"x":{"field":"x","type":"nominal","scale":{"domain":["P0_epi","P0_FC"],"paddingInner":0.5,"paddingOuter":0.25},"axis":{"title":null,"labelAngle":0,"ticks":false,"labelFontSize":7,"labelPadding":4}},"y":{"field":"y","type":"quantitative","title":"RNA-seq (CPM)","scale":{"domain":[0,2200],"nice":false},"axis":{"values":[0,200,400,600,800,1000,1200,1400,1600,1800,2000,2200],"format":"d","labelFontSize":6.5,"tickSize":3,"labelPadding":2,"titleFontSize":10,"titlePadding":3,"titleY":57,"labelOverlap":false}}},
"layer":[
{"data":{"name":"rna"},"transform":[{"filter":"datum.gene==='Cyp51a1'"}],"mark":{"type":"bar","color":"#595959"}},
{"data":{"name":"rna"},"transform":[{"filter":"datum.gene==='Cyp51a1'"}],"mark":{"type":"errorbar","color":"#111","ticks":{"size":7}},"encoding":{"yError":{"field":"err"}}},
{"data":{"name":"sig"},"transform":[{"filter":"datum.gene==='Cyp51a1'"}],"mark":{"type":"rule","color":"#111"},"encoding":{"x2":{"field":"x2"}}},
{"data":{"name":"st"},"transform":[{"filter":"datum.gene==='Cyp51a1'"}],"mark":{"type":"rule","color":"#111","y2Offset":4},"encoding":{"y2":{"field":"y"}}},
{"data":{"name":"sig"},"transform":[{"filter":"datum.gene==='Cyp51a1'"}],"mark":{"type":"text","fontSize":12,"baseline":"alphabetic","dy":4,"dx":12.5,"color":"#111"},"encoding":{"text":{"field":"text"}}},
{"data":{"name":"ct"},"transform":[{"filter":"datum.gene==='Cyp51a1'"}],"mark":{"type":"text","fontSize":9.5,"fontWeight":"bold","fontStyle":"italic","color":"#111","dx":11.5,"dy":-1},"encoding":{"text":{"field":"text"}}}
]}
]},
{"spacing":27,"hconcat":[
{"width":32,"height":114,
"encoding":{"x":{"field":"x","type":"nominal","scale":{"domain":["P0_epi","P0_FC"],"paddingInner":0.45,"paddingOuter":0.3},"axis":{"title":null,"labelAngle":0,"ticks":false,"labelFontSize":4.5,"labelPadding":3}},"y":{"field":"y","type":"quantitative","title":"RNA-seq (CPM)","scale":{"domain":[0,120],"nice":false},"axis":{"values":[0,20,40,60,80,100,120],"format":"d","labelFontSize":4.5,"tickSize":2,"labelPadding":2,"titleFontSize":10,"titlePadding":3,"titleY":37,"labelOverlap":false}}},
"layer":[
{"data":{"name":"rna"},"transform":[{"filter":"datum.gene==='Taf1a'"}],"mark":{"type":"bar","color":"#595959"}},
{"data":{"name":"rna"},"transform":[{"filter":"datum.gene==='Taf1a'"}],"mark":{"type":"errorbar","color":"#111","ticks":{"size":5}},"encoding":{"yError":{"field":"err"}}},
{"data":{"name":"sig"},"transform":[{"filter":"datum.gene==='Taf1a'"}],"mark":{"type":"rule","color":"#111"},"encoding":{"x2":{"field":"x2"}}},
{"data":{"name":"st"},"transform":[{"filter":"datum.gene==='Taf1a'"}],"mark":{"type":"rule","color":"#111","y2Offset":4},"encoding":{"y2":{"field":"y"}}},
{"data":{"name":"sig"},"transform":[{"filter":"datum.gene==='Taf1a'"}],"mark":{"type":"text","fontSize":11,"baseline":"alphabetic","dy":2,"dx":7.4,"color":"#111"},"encoding":{"text":{"field":"text"}}},
{"data":{"name":"ct"},"transform":[{"filter":"datum.gene==='Taf1a'"}],"mark":{"type":"text","fontSize":9.5,"fontWeight":"bold","fontStyle":"italic","color":"#111","dx":9},"encoding":{"text":{"field":"text"}}}
]},
{"spacing":33,"hconcat":[
{"width":32,"height":114,
"encoding":{"x":{"field":"x","type":"nominal","scale":{"domain":["P0_epi","P0_FC"],"paddingInner":0.45,"paddingOuter":0.3},"axis":{"title":null,"labelAngle":0,"ticks":false,"labelFontSize":4.5,"labelPadding":3}},"y":{"field":"y","type":"quantitative","title":"RNA-seq (CPM)","scale":{"domain":[0,120],"nice":false},"axis":{"values":[0,20,40],"format":"d","domain":false,"labelFontSize":4.5,"tickSize":2,"labelPadding":2,"titleFontSize":10,"titlePadding":3,"titleY":85,"labelOverlap":false}}},
"layer":[
{"data":{"name":"rna"},"transform":[{"filter":"datum.gene==='Gemin4'"}],"mark":{"type":"bar","color":"#595959"}},
{"data":{"name":"rna"},"transform":[{"filter":"datum.gene==='Gemin4'"}],"mark":{"type":"errorbar","color":"#111","ticks":{"size":5}},"encoding":{"yError":{"field":"err"}}},
{"data":{"name":"caxl"},"transform":[{"filter":"datum.gene==='Gemin4'"}],"mark":{"type":"rule","color":"#9a9a9a","xOffset":-8.55},"encoding":{"y2":{"field":"y2"}}},
{"data":{"name":"sig"},"transform":[{"filter":"datum.gene==='Gemin4'"}],"mark":{"type":"rule","color":"#111"},"encoding":{"x2":{"field":"x2"}}},
{"data":{"name":"st"},"transform":[{"filter":"datum.gene==='Gemin4'"}],"mark":{"type":"rule","color":"#111","y2Offset":4},"encoding":{"y2":{"field":"y"}}},
{"data":{"name":"sig"},"transform":[{"filter":"datum.gene==='Gemin4'"}],"mark":{"type":"text","fontSize":10,"baseline":"alphabetic","dy":-3,"dx":7.4,"color":"#111"},"encoding":{"text":{"field":"text"}}},
{"data":{"name":"ct"},"transform":[{"filter":"datum.gene==='Gemin4'"}],"mark":{"type":"text","fontSize":9,"fontWeight":"bold","fontStyle":"italic","color":"#111","dx":0},"encoding":{"text":{"field":"text"}}}
]},
{"width":32,"height":114,
"encoding":{"x":{"field":"x","type":"nominal","scale":{"domain":["P0_epi","P0_FC"],"paddingInner":0.45,"paddingOuter":0.3},"axis":{"title":null,"labelAngle":0,"ticks":false,"labelFontSize":4.5,"labelPadding":3}},"y":{"field":"y","type":"quantitative","title":"RNA-seq (CPM)","scale":{"domain":[0,120],"nice":false},"axis":{"values":[0,20,40],"format":"d","domain":false,"labelFontSize":4.5,"tickSize":2,"labelPadding":2,"titleFontSize":10,"titlePadding":3,"titleY":85,"labelOverlap":false}}},
"layer":[
{"data":{"name":"rna"},"transform":[{"filter":"datum.gene==='WDR87'"}],"mark":{"type":"bar","color":"#595959"}},
{"data":{"name":"rna"},"transform":[{"filter":"datum.gene==='WDR87'"}],"mark":{"type":"errorbar","color":"#111","ticks":{"size":5}},"encoding":{"yError":{"field":"err"}}},
{"data":{"name":"caxl"},"transform":[{"filter":"datum.gene==='WDR87'"}],"mark":{"type":"rule","color":"#9a9a9a","xOffset":-8.55},"encoding":{"y2":{"field":"y2"}}},
{"data":{"name":"sig"},"transform":[{"filter":"datum.gene==='WDR87'"}],"mark":{"type":"rule","color":"#111"},"encoding":{"x2":{"field":"x2"}}},
{"data":{"name":"st"},"transform":[{"filter":"datum.gene==='WDR87'"}],"mark":{"type":"rule","color":"#111","y2Offset":4},"encoding":{"y2":{"field":"y"}}},
{"data":{"name":"sig"},"transform":[{"filter":"datum.gene==='WDR87'"}],"mark":{"type":"text","fontSize":10,"baseline":"alphabetic","dy":-3,"dx":7.4,"color":"#111"},"encoding":{"text":{"field":"text"}}},
{"data":{"name":"ct"},"transform":[{"filter":"datum.gene==='WDR87'"}],"mark":{"type":"text","fontSize":9,"fontWeight":"bold","fontStyle":"italic","color":"#111","dx":0},"encoding":{"text":{"field":"text"}}}
]}
]}
]}
]
}
]
}
]
}
